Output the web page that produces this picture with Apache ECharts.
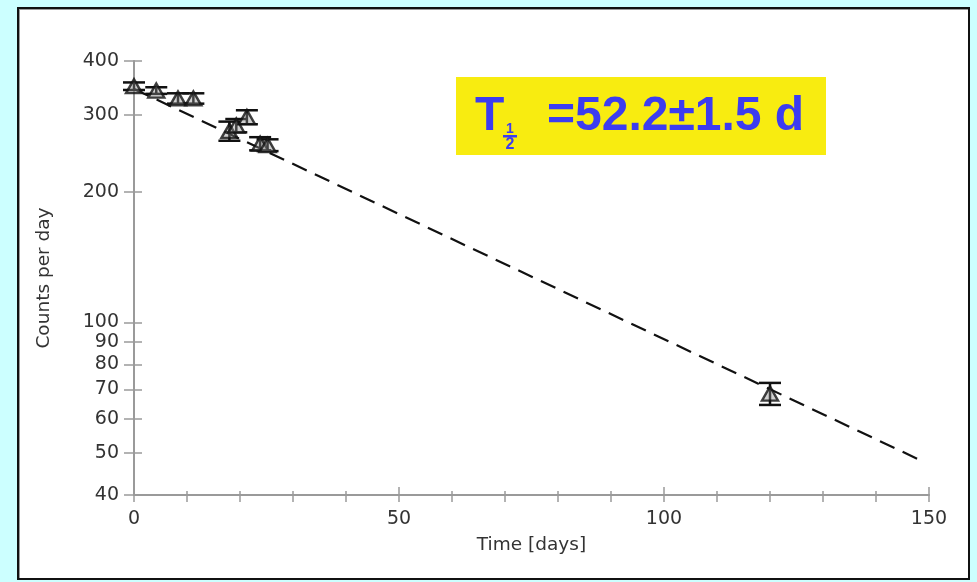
<!DOCTYPE html>
<html>
<head>
<meta charset="utf-8">
<script src="https://cdn.jsdelivr.net/npm/echarts@6/dist/echarts.min.js"></script>
<style>
  html, body { margin: 0; padding: 0; background: #ccffff; }
  #panel {
    position: absolute; left: 17px; top: 7px; width: 949px; height: 569px;
    background: #ffffff; border: 2px solid #111;
    box-shadow: inset 1px 1px 0 0 #9a9a9a;
  }
  #chart { position: absolute; left: 0; top: 0; width: 977px; height: 582px; }
</style>
</head>
<body>
<div id="panel"></div>
<div id="chart"></div>
<script>
// Measured decay: time in days, counts per day and one-sigma uncertainty
const days   = [0, 4.2, 8.3, 11.2, 18.0, 19.3, 21.3, 23.8, 25.2, 120.0];
const counts = [350, 342, 328, 328, 276, 284, 297, 258, 256, 68.5];
const errors = [7, 6, 9, 9, 14, 10, 11, 9, 8, 4];

// Exponential fit: initial rate and half-life (days)
const fitA0 = 345;
const halfLife = 52.2;
const halfLifeErr = 1.5;
const fitRange = [0, 149];

// Tick values
const yTicks = [40, 50, 60, 70, 80, 90, 100, 200, 300, 400];
const xMinorStep = 10;
const xMajorStep = 50;

const points = days.map((d, i) => [d, counts[i], errors[i]]);
const fitLine = fitRange.map(t => [t, fitA0 * Math.pow(0.5, t / halfLife)]);

const axisColor = '#9a9a9a';
const fontFamily = 'DejaVu Sans, Verdana, sans-serif';
const labelFont = { color: '#333', fontSize: 19, fontFamily: fontFamily };
const nameFont = { color: '#333', fontSize: 18.5, fontFamily: fontFamily };

const chart = echarts.init(document.getElementById('chart'), null, { renderer: 'canvas' });

function xAxisDef(step, tickLen, inside, withLabels) {
  return {
    type: 'value', min: 0, max: 150, interval: step, position: 'bottom',
    axisLine: { show: withLabels, lineStyle: { color: axisColor, width: 2 } },
    axisTick: { show: true, inside: inside, length: tickLen, lineStyle: { color: axisColor, width: 1.5 } },
    axisLabel: withLabels ? Object.assign({
      margin: 15,
      formatter: v => (v % xMajorStep === 0 ? String(v) : '')
    }, labelFont) : { show: false },
    splitLine: { show: false },
    name: withLabels ? 'Time [days]' : '',
    nameLocation: 'middle', nameGap: 41,
    nameTextStyle: nameFont
  };
}

function yAxisDef(tickLen, inside, withLabels) {
  return {
    type: 'log', logBase: 10, min: 40, max: 400, position: 'left',
    axisLine: { show: withLabels, lineStyle: { color: axisColor, width: 2 } },
    axisTick: { show: true, inside: inside, length: tickLen, customValues: yTicks,
                lineStyle: { color: axisColor, width: 1.5 } },
    axisLabel: withLabels ? Object.assign({ margin: 15, customValues: yTicks }, labelFont) : { show: false },
    splitLine: { show: false },
    minorTick: { show: false },
    name: withLabels ? 'Counts per day' : '',
    nameLocation: 'middle', nameGap: 80,
    nameTextStyle: nameFont
  };
}

const option = {
  animation: false,
  backgroundColor: 'transparent',
  grid: { left: 134, right: 48, top: 61, bottom: 87, containLabel: false },
  xAxis: [
    xAxisDef(xMinorStep, 7, false, true),
    xAxisDef(xMinorStep, 4, true, false),
    xAxisDef(xMajorStep, 8, true, false)
  ],
  yAxis: [
    yAxisDef(10, false, true),
    yAxisDef(8, true, false)
  ],
  series: [
    {
      type: 'line', data: fitLine, showSymbol: false, z: 1,
      lineStyle: { color: '#111', width: 2.2, type: [16, 9] }
    },
    {
      type: 'custom', z: 3,
      data: points,
      renderItem: function (params, api) {
        const x = api.value(0), y = api.value(1), e = api.value(2);
        const top = api.coord([x, y + e]);
        const bot = api.coord([x, y - e]);
        const half = 11;
        const style = { stroke: '#111', lineWidth: 2.5 };
        return {
          type: 'group',
          children: [
            { type: 'line', shape: { x1: top[0], y1: top[1], x2: bot[0], y2: bot[1] }, style: style },
            { type: 'line', shape: { x1: top[0] - half, y1: top[1], x2: top[0] + half, y2: top[1] }, style: style },
            { type: 'line', shape: { x1: bot[0] - half, y1: bot[1], x2: bot[0] + half, y2: bot[1] }, style: style }
          ]
        };
      }
    },
    {
      type: 'scatter', z: 4,
      data: points.map(p => [p[0], p[1]]),
      symbol: 'triangle', symbolSize: [16, 14],
      itemStyle: { color: 'rgba(140,140,140,0.5)', borderColor: '#111', borderWidth: 2.4 }
    }
  ],
  graphic: [
    {
      type: 'group', left: 456, top: 77,
      children: [
        { type: 'rect', shape: { x: 0, y: 0, width: 370, height: 78 }, style: { fill: '#f8ec10' } },
        { type: 'text', x: 19, y: 40,
          style: { text: 'T', fill: '#3c3cf0', font: 'bold 48px Liberation Sans, Arial, sans-serif',
                   verticalAlign: 'middle' } },
        { type: 'text', x: 54, y: 52,
          style: { text: '1', fill: '#3c3cf0', font: 'bold 14px Liberation Sans, Arial, sans-serif',
                   align: 'center', verticalAlign: 'middle' } },
        { type: 'rect', shape: { x: 47, y: 58, width: 14, height: 2.5 }, style: { fill: '#3c3cf0' } },
        { type: 'text', x: 54, y: 68,
          style: { text: '2', fill: '#3c3cf0', font: 'bold 16px Liberation Sans, Arial, sans-serif',
                   align: 'center', verticalAlign: 'middle' } },
        { type: 'text', x: 91, y: 40,
          style: { text: '=' + halfLife.toFixed(1) + '\u00b1' + halfLifeErr.toFixed(1) + ' d',
                   fill: '#3c3cf0', font: 'bold 48px Liberation Sans, Arial, sans-serif',
                   verticalAlign: 'middle' } }
      ]
    }
  ]
};

chart.setOption(option);
</script>
</body>
</html>
